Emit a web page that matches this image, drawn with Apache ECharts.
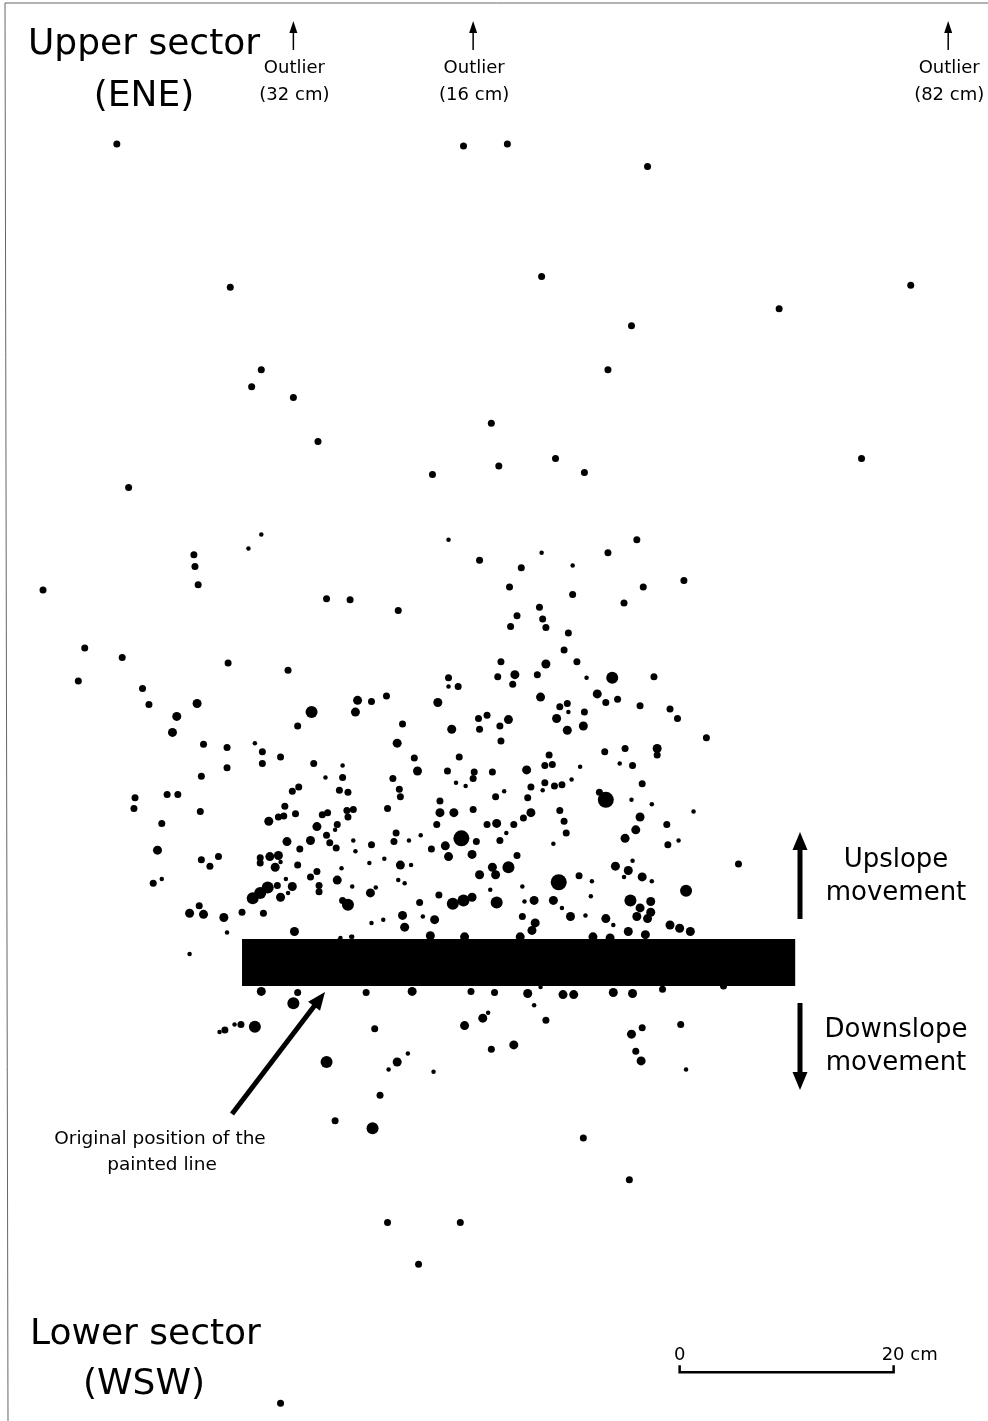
<!DOCTYPE html>
<html><head><meta charset="utf-8">
<script src="https://cdn.jsdelivr.net/npm/echarts@6/dist/echarts.min.js"></script>
<style>html,body{margin:0;padding:0;background:#fff}#c{width:988px;height:1421px}</style>
</head><body><div id="c"></div>
<script>
// Clast positions in mm: x measured along the painted line from its left end,
// y measured from the centre of the painted line (positive = upslope / ENE).
const fineClasts = [[18,400],[193,395],[6,387],[280,383],[309,371],[12,205],[193,258],[322,266],[305,234],[36,94],[41,78],[43,65],[-75,78],[-14,28],[94,184],[78,173],[200,168],[209,165],[245,160],[247,121],[87,124],[104,114],[106,104],[156,114],[167,119],[133,97],[119,93],[158,91],[93,88],[103,71],[125,70],[146,77],[152,74],[232,68],[121,37],[132,40],[169,43],[103,24],[92,23],[316,183],[353,186],[308,171],[281,161],[364,152],[383,148],[422,141],[408,114],[291,111],[365,95],[357,80],[383,76],[327,76],[262,71],[326,62],[264,57],[299,51],[321,44],[347,35],[-49,8],[91,21],[102,24],[-21,-65],[-7,-58],[279,-23],[273,-40],[230,-47],[155,-85],[137,-100],[179,-102],[415,-100]];
const clasts = [[-117,765],[207,763],[248,765],[379,744],[-11,631],[280,641],[625,633],[502,611],[364,595],[18,554],[9,538],[342,554],[48,528],[233,504],[71,487],[293,471],[240,464],[579,471],[320,458],[178,456],[-106,444],[-45,381],[-44,370],[-41,353],[369,395],[342,383],[222,376],[261,369],[-186,348],[413,357],[375,351],[79,340],[101,339],[250,351],[146,329],[357,336],[-112,285],[-13,280],[43,273],[-93,256],[-87,241],[52,221],[-36,204],[-14,201],[19,197],[36,192],[-147,294],[-153,263],[257,324],[251,314],[242,281],[239,267],[253,260],[193,266],[202,258],[121,244],[135,249],[150,223],[161,191],[203,192],[221,228],[229,231],[222,218],[241,221],[242,207],[309,344],[278,332],[281,321],[284,313],[305,308],[301,292],[313,281],[276,269],[385,267],[340,243],[351,246],[297,239],[304,242],[372,240],[400,237],[407,228],[320,234],[434,210],[287,194],[339,197],[358,200],[388,194],[-100,154],[-101,144],[-70,157],[-60,157],[-38,174],[-14,182],[19,186],[67,186],[-39,141],[-75,130],[47,160],[53,164],[40,146],[34,136],[39,137],[50,139],[54,106],[-38,96],[-30,90],[-22,99],[17,98],[17,93],[52,91],[70,85],[64,80],[33,72],[72,72],[72,66],[-83,74],[-40,53],[0,47],[20,46],[94,173],[91,161],[99,159],[141,172],[147,162],[148,155],[192,179],[217,178],[216,172],[234,178],[237,155],[185,151],[216,143],[182,129],[229,129],[254,129],[241,114],[136,144],[104,143],[98,142],[99,136],[80,140],[75,138],[89,129],[79,119],[82,112],[88,107],[121,110],[144,121],[142,113],[219,113],[177,106],[257,100],[94,58],[166,56],[184,63],[283,184],[290,185],[365,184],[374,167],[270,164],[283,168],[292,165],[299,166],[334,159],[267,154],[263,135],[297,142],[301,132],[303,121],[397,129],[398,110],[315,81],[262,43],[52,-28],[116,-28],[-16,-63],[-1,-58],[124,-62],[129,-124],[214,-27],[236,-28],[284,-54],[233,-81],[393,-25],[450,-22],[374,-61],[410,-58],[368,-83],[319,-164],[362,-203],[87,-148],[136,-243],[204,-243],[165,-282],[36,-412],[464,92]];
const mediumClasts = [[-42,242],[-61,230],[-65,215],[255,269],[108,245],[106,234],[183,243],[145,205],[196,218],[249,227],[284,279],[279,248],[332,251],[294,228],[304,217],[319,221],[388,200],[25,132],[70,127],[42,113],[64,114],[-79,105],[26,99],[34,100],[31,89],[47,71],[36,61],[-49,46],[-36,45],[-17,42],[49,29],[164,179],[185,140],[198,140],[238,130],[190,109],[193,99],[215,101],[148,91],[234,89],[237,82],[222,82],[89,77],[120,65],[215,61],[150,44],[152,33],[180,40],[176,25],[208,24],[260,24],[266,180],[270,140],[372,136],[368,124],[358,116],[349,90],[361,86],[374,80],[273,58],[291,58],[372,51],[382,57],[382,47],[369,43],[379,41],[307,43],[340,41],[274,37],[271,30],[400,35],[409,32],[419,29],[361,29],[377,26],[328,24],[18,-27],[159,-27],[267,-29],[300,-30],[310,-30],[208,-59],[225,-52],[254,-77],[145,-93],[347,-28],[365,-29],[364,-67],[373,-92],[344,23]];
const coarseClasts = [[65,234],[346,266],[10,60],[17,65],[24,70],[249,89],[99,54],[197,55],[207,58],[238,56],[415,67],[363,58],[48,-38],[12,-60],[79,-93],[122,-155]];
const largestClasts = [[205,116],[340,152],[296,75]];

// painted line: [x0, y0, x1, y1] in mm
const paintedLine = [[0, -22, 517, 22]];
// scale bar: [x start, y, length] in mm
const scaleBar = [[409, -383, 200]];
const scaleLabels = ['0', '20 cm'];
// outliers beyond the top of the plot: x position (mm) and distance (cm)
const outlierX = [48, 216, 660];
const outlierDistCm = [32, 16, 82];

const FONT = 'DejaVu Sans';
const chart = echarts.init(document.getElementById('c'), null, {renderer: 'canvas'});

function arrow(x1, y1, x2, y2, w, hl, hw) {
  const dx = x2 - x1, dy = y2 - y1, L = Math.hypot(dx, dy), ux = dx / L, uy = dy / L;
  const bx = x2 - ux * hl, by = y2 - uy * hl, px = -uy * hw / 2, py = ux * hw / 2;
  return [
    {type: 'line', silent: true, shape: {x1: x1, y1: y1, x2: bx + ux, y2: by + uy}, style: {stroke: '#000', lineWidth: w}},
    {type: 'polygon', silent: true, shape: {points: [[x2, y2], [bx + px, by + py], [bx - px, by - py]]}, style: {fill: '#000'}}
  ];
}
function txt(text, x, y, size, align) {
  return {type: 'text', silent: true, x: x, y: y,
    style: {text: text, fill: '#000', font: 'normal ' + size + 'px "' + FONT + '"', textAlign: align || 'center', textVerticalAlign: 'middle'}};
}

const scatterBase = {type: 'scatter', symbol: 'circle', silent: true, itemStyle: {color: '#000', opacity: 1}, animation: false};

const graphics = [].concat(
  [{type: 'line', silent: true, shape: {x1: 5, y1: 3, x2: 988, y2: 3}, style: {stroke: '#666', lineWidth: 1}},
   {type: 'line', silent: true, shape: {x1: 5, y1: 3, x2: 8, y2: 1421}, style: {stroke: '#666', lineWidth: 1}}],
  [txt('Upper sector', 28, 45, 36, 'left'), txt('(ENE)', 144, 97, 36),
   txt('Lower sector', 30, 1335, 36, 'left'), txt('(WSW)', 144, 1385, 36),
   txt('Upslope', 896, 860, 26), txt('movement', 896, 893, 26),
   txt('Downslope', 896, 1030, 26), txt('movement', 896, 1063, 26),
   txt('Original position of the', 160, 1139, 18.5), txt('painted line', 162, 1165, 18.5)],
  arrow(800, 919, 800, 832, 5, 18, 15),
  arrow(800, 1003, 800, 1090, 5, 18, 15),
  arrow(232, 1114, 325, 992, 5, 18, 15)
);

chart.setOption({
  animation: false,
  backgroundColor: '#fff',
  grid: {left: 0, right: 0, top: 0, bottom: 0},
  xAxis: {type: 'value', min: -226.2, max: 697.2, show: false},
  yAxis: {type: 'value', min: -428.5, max: 899.5, show: false},
  series: [
    {type: 'custom', silent: true, z: 1, data: paintedLine,
      renderItem: function (params, api) {
        const a = api.coord([api.value(0), api.value(3)]);
        const b = api.coord([api.value(2), api.value(1)]);
        return {type: 'rect', shape: {x: a[0], y: a[1], width: b[0] - a[0], height: b[1] - a[1]}, style: {fill: '#000'}};
      }},
    Object.assign({}, scatterBase, {z: 2, symbolSize: 4.5, data: fineClasts}),
    Object.assign({}, scatterBase, {z: 2, symbolSize: 7, data: clasts}),
    Object.assign({}, scatterBase, {z: 2, symbolSize: 9, data: mediumClasts}),
    Object.assign({}, scatterBase, {z: 2, symbolSize: 12, data: coarseClasts}),
    Object.assign({}, scatterBase, {z: 2, symbolSize: 16, data: largestClasts}),
    {type: 'custom', silent: true, z: 3, data: scaleBar,
      renderItem: function (params, api) {
        const a = api.coord([api.value(0), api.value(1)]);
        const b = api.coord([api.value(0) + api.value(2), api.value(1)]);
        return {type: 'group', children: [
          {type: 'polyline', shape: {points: [[a[0], a[1] - 7], [a[0], a[1]], [b[0], b[1]], [b[0], b[1] - 7]]}, style: {stroke: '#000', lineWidth: 2.5, fill: null}},
          {type: 'text', x: a[0], y: a[1] - 17, style: {text: scaleLabels[0], fill: '#000', font: '18px "' + FONT + '"', textAlign: 'center', textVerticalAlign: 'middle'}},
          {type: 'text', x: b[0] - 12, y: b[1] - 17, style: {text: scaleLabels[1], fill: '#000', font: '18px "' + FONT + '"', textAlign: 'left', textVerticalAlign: 'middle'}}
        ]};
      }},
    {type: 'custom', silent: true, z: 3, data: outlierX.map(function (x, i) { return [x, outlierDistCm[i]]; }),
      renderItem: function (params, api) {
        const p = api.coord([api.value(0), 0]);
        const x = p[0];
        return {type: 'group', children: arrow(x, 50, x, 21, 1.5, 12, 8).concat([
          {type: 'text', x: x + 1, y: 68, style: {text: 'Outlier', fill: '#000', font: '18px "' + FONT + '"', textAlign: 'center', textVerticalAlign: 'middle'}},
          {type: 'text', x: x + 1, y: 95, style: {text: '(' + api.value(1) + ' cm)', fill: '#000', font: '18px "' + FONT + '"', textAlign: 'center', textVerticalAlign: 'middle'}}
        ])};
      }}
  ],
  graphic: graphics
});
</script></body></html>
